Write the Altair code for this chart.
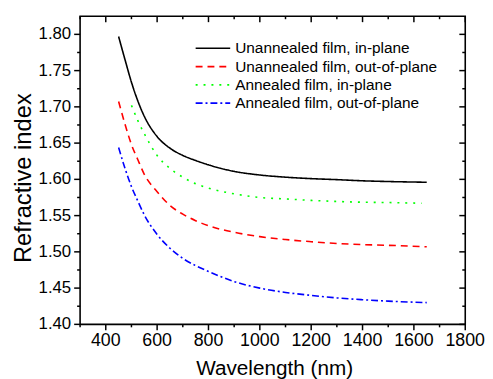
import altair as alt
import pandas as pd

series_names = [
    "Unannealed film, in-plane",
    "Unannealed film, out-of-plane",
    "Annealed film, in-plane",
    "Annealed film, out-of-plane",
]
series_colors = ["#000000", "#ff0000", "#00ff00", "#0000ff"]
series_dashes = [[1, 0], [7, 5], [2, 6], [7, 3, 2, 3]]

wl_main = [450, 475, 500, 525, 550, 600, 650, 700, 750, 800, 900, 1000, 1100, 1200, 1300, 1400, 1500, 1650]
wl_green = [500, 525, 550, 600, 650, 700, 750, 800, 900, 1000, 1100, 1200, 1300, 1400, 1500, 1630]

n_unann_in = [1.797, 1.765, 1.734, 1.708, 1.687, 1.659, 1.643, 1.633, 1.626, 1.620, 1.611, 1.606, 1.603, 1.601, 1.5996, 1.598, 1.597, 1.596]
n_unann_out = [1.7075, 1.676, 1.648, 1.627, 1.607, 1.583, 1.564, 1.552, 1.543, 1.536, 1.527, 1.521, 1.517, 1.514, 1.5115, 1.510, 1.509, 1.507]
n_ann_in = [1.702, 1.681, 1.663, 1.633, 1.615, 1.603, 1.594, 1.588, 1.580, 1.575, 1.573, 1.571, 1.5695, 1.5685, 1.568, 1.567]
n_ann_out = [1.644, 1.615, 1.590, 1.570, 1.551, 1.524, 1.505, 1.491, 1.481, 1.473, 1.459, 1.450, 1.444, 1.440, 1.4365, 1.434, 1.432, 1.430]

x_major = [400, 600, 800, 1000, 1200, 1400, 1600, 1800]
x_minor = [300, 500, 700, 900, 1100, 1300, 1500, 1700]
y_major = [1.40, 1.45, 1.50, 1.55, 1.60, 1.65, 1.70, 1.75, 1.80]
y_minor = [1.425, 1.475, 1.525, 1.575, 1.625, 1.675, 1.725, 1.775]
x_labels = ["400", "600", "800", "1000", "1200", "1400", "1600", "1800"]
y_labels = ["1.40", "1.45", "1.50", "1.55", "1.60", "1.65", "1.70", "1.75", "1.80"]
x_title = "Wavelength (nm)"
y_title = "Refractive index"

rows = []
for name, wls, vals in [
    (series_names[0], wl_main, n_unann_in),
    (series_names[1], wl_main, n_unann_out),
    (series_names[2], wl_green, n_ann_in),
    (series_names[3], wl_main, n_ann_out),
]:
    for w, v in zip(wls, vals):
        rows.append({"series": name, "wl": w, "n": v})
df = pd.DataFrame(rows)

W, H = 390, 312
FONT = "Liberation Sans"
xs = alt.Scale(domain=[300, 1800], nice=False, zero=False)
ys = alt.Scale(domain=[1.40, 1.825], nice=False, zero=False)

legend_kw = dict(title=None, orient="none", legendX=116, legendY=25,
                 symbolType="stroke", symbolSize=1225, symbolStrokeWidth=1.6,
                 labelFontSize=15.6, labelFont=FONT, rowPadding=1.5, clipHeight=15,
                 labelLimit=400, labelOffset=4, labelColor="black")

lines = alt.Chart(df).mark_line(strokeWidth=1.6, interpolate="monotone").encode(
    x=alt.X("wl:Q", scale=xs, axis=None),
    y=alt.Y("n:Q", scale=ys, axis=None),
    color=alt.Color("series:N", scale=alt.Scale(domain=series_names, range=series_colors),
                    legend=alt.Legend(**legend_kw)),
    strokeDash=alt.StrokeDash("series:N", scale=alt.Scale(domain=series_names, range=series_dashes),
                              legend=alt.Legend(**legend_kw)),
    detail="series:N",
)

xmaj = pd.DataFrame({"wl": x_major, "label": x_labels})
xmin = pd.DataFrame({"wl": x_minor})
ymaj = pd.DataFrame({"n": y_major, "label": y_labels})
ymin = pd.DataFrame({"n": y_minor})


def xticks(data, yc, length):
    return alt.Chart(data).mark_tick(color="black", thickness=1.5, size=length,
                                     orient="vertical", opacity=1).encode(
        x=alt.X("wl:Q", scale=xs, axis=None), y=alt.value(yc))


def yticks(data, xc, length):
    return alt.Chart(data).mark_tick(color="black", thickness=1.5, size=length,
                                     orient="horizontal", opacity=1).encode(
        y=alt.Y("n:Q", scale=ys, axis=None), x=alt.value(xc))


ticks = [
    xticks(xmaj, H + 3, 6), xticks(xmin, H + 1.5, 3),
    xticks(xmaj, 3, 6), xticks(xmin, 1.5, 3),
    yticks(ymaj, -3, 6), yticks(ymin, -1.5, 3),
    yticks(ymaj, W - 3, 6), yticks(ymin, W - 1.5, 3),
]

xlab = alt.Chart(xmaj).mark_text(font=FONT, fontSize=18, color="black", align="center",
                                 baseline="top").encode(
    x=alt.X("wl:Q", scale=xs, axis=None), y=alt.value(H + 8), text="label:N")
ylab = alt.Chart(ymaj).mark_text(font=FONT, fontSize=17, color="black", align="right",
                                 baseline="middle").encode(
    y=alt.Y("n:Q", scale=ys, axis=None), x=alt.value(-9), text="label:N")

xtit = alt.Chart(pd.DataFrame({"t": [x_title]})).mark_text(
    font=FONT, fontSize=21, color="black", align="center", baseline="alphabetic").encode(
    x=alt.value(197), y=alt.value(H + 51), text="t:N")
ytit = alt.Chart(pd.DataFrame({"t": [y_title]})).mark_text(
    font=FONT, fontSize=24, color="black", align="center", baseline="alphabetic", angle=270).encode(
    x=alt.value(-50), y=alt.value(164), text="t:N")

chart = alt.layer(lines, *ticks, xlab, ylab, xtit, ytit).properties(
    width=W, height=H,
    autosize=alt.AutoSizeParams(type="none"),
    padding={"left": 73, "top": 6, "right": 20, "bottom": 53},
).configure_view(
    stroke="black", strokeWidth=1.6
)

chart.save("out.html", embed_options={"renderer": "svg", "actions": False})
